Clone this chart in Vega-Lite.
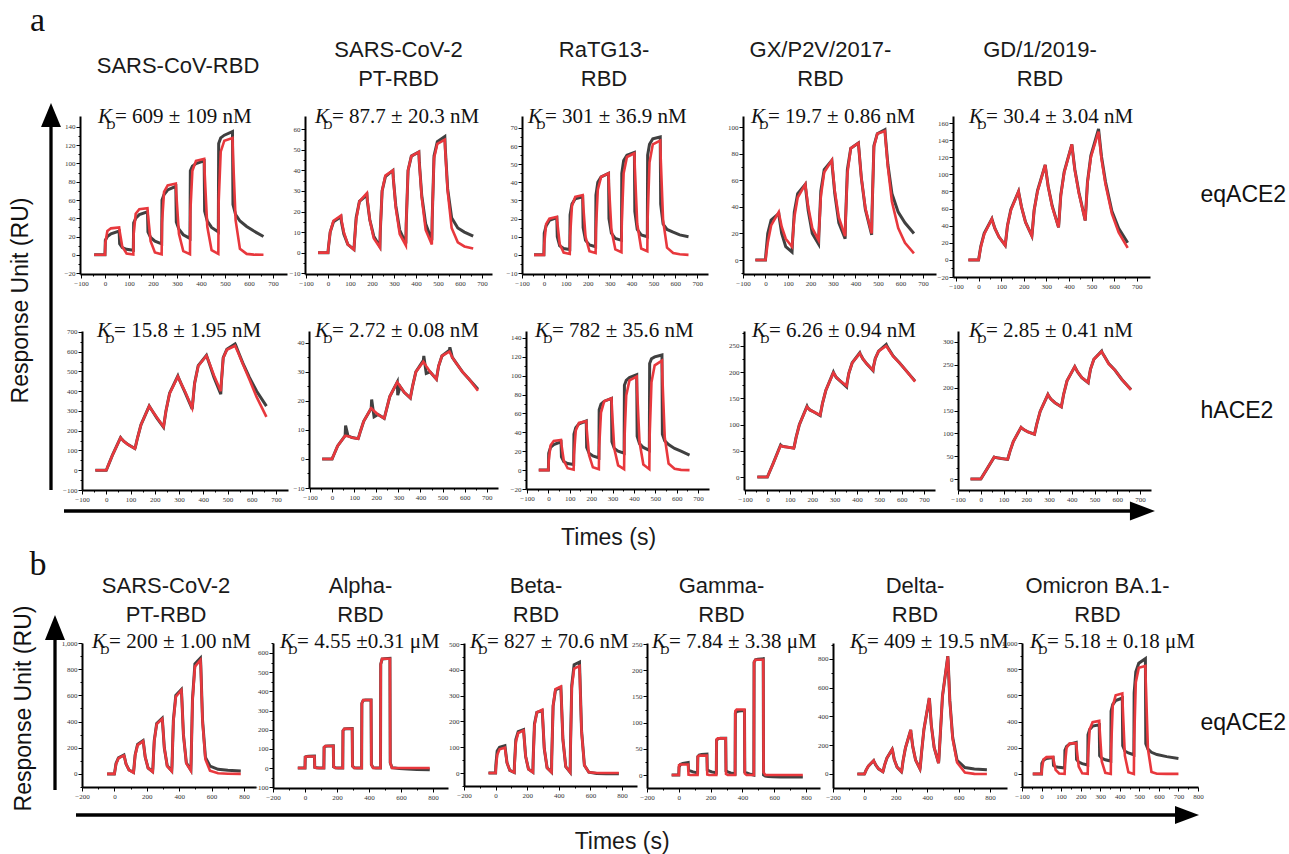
{
"$schema":"https://vega.github.io/schema/vega-lite/v6.json",
"autosize":{"type":"none"},
"padding":{"left":0,"top":0,"right":1289,"bottom":854},
"background":"white",
"config":{
 "view":{"stroke":null},
 "axis":{"domainColor":"#000","domainWidth":2,"tickColor":"#000","tickWidth":1,"tickSize":3,"labelFont":"Liberation Serif","labelFontSize":7,"labelColor":"#333","labelPadding":1,"labelOverlap":false,"labelFlush":false,"grid":false},
 "title":{"font":"Liberation Sans","fontSize":22,"fontWeight":"normal","color":"#1a1a1a","anchor":"middle","frame":"group","lineHeight":29,"baseline":"bottom"}
},
"datasets":{
"a1":[{"t":-45,"m":0,"f":0},{"t":0,"m":0,"f":0},{"t":1.5,"m":16,"f":13},{"t":10,"m":20,"f":26},{"t":25,"m":23,"f":29},{"t":59,"m":26,"f":30},{"t":61,"m":12,"f":26},{"t":72,"m":8,"f":9},{"t":90,"m":6,"f":1.5},{"t":118,"m":5,"f":0.3},{"t":119.5,"m":35,"f":23},{"t":128,"m":40,"f":45},{"t":143,"m":44,"f":50},{"t":177,"m":47,"f":51},{"t":179,"m":25,"f":44},{"t":190,"m":19,"f":15},{"t":208,"m":15,"f":2.5},{"t":236,"m":12,"f":0.5},{"t":237.5,"m":60,"f":35},{"t":246,"m":66,"f":69},{"t":261,"m":71,"f":76},{"t":295,"m":75,"f":78},{"t":297,"m":36,"f":67},{"t":308,"m":28,"f":23},{"t":326,"m":22,"f":4},{"t":354,"m":18,"f":0.7},{"t":355.5,"m":92,"f":47},{"t":364,"m":97,"f":92},{"t":379,"m":100,"f":103},{"t":413,"m":103,"f":105},{"t":415,"m":48,"f":90},{"t":426,"m":37,"f":31},{"t":444,"m":30,"f":5},{"t":472,"m":25,"f":1},{"t":473.5,"m":122,"f":58},{"t":482,"m":128,"f":113},{"t":497,"m":131,"f":125},{"t":531,"m":135,"f":128},{"t":533,"m":55,"f":110},{"t":544,"m":44,"f":38},{"t":562,"m":37,"f":6.5},{"t":590,"m":31,"f":1},{"t":620,"m":26,"f":0.2},{"t":660,"m":20,"f":0}],
"a2":[{"t":-45,"m":0,"f":0},{"t":0,"m":0,"f":0},{"t":1.5,"m":2,"f":2},{"t":10,"m":10,"f":10},{"t":25,"m":15,"f":15.5},{"t":59,"m":17.5,"f":18},{"t":61,"m":15,"f":16},{"t":72,"m":9,"f":10},{"t":90,"m":4,"f":4},{"t":118,"m":1.5,"f":1.5},{"t":119.5,"m":4,"f":4},{"t":128,"m":17,"f":16},{"t":143,"m":25,"f":25},{"t":177,"m":28,"f":29},{"t":179,"m":25,"f":26},{"t":190,"m":16,"f":16},{"t":208,"m":8,"f":7},{"t":236,"m":3,"f":2.5},{"t":237.5,"m":10,"f":10},{"t":246,"m":30,"f":30},{"t":261,"m":37,"f":37.5},{"t":295,"m":40,"f":40},{"t":297,"m":36,"f":36},{"t":308,"m":23,"f":22},{"t":326,"m":11,"f":9},{"t":354,"m":4.5,"f":3.5},{"t":355.5,"m":14,"f":14},{"t":364,"m":40,"f":40},{"t":379,"m":47,"f":47},{"t":413,"m":49,"f":49},{"t":415,"m":44,"f":44},{"t":426,"m":28,"f":27},{"t":444,"m":14,"f":11},{"t":472,"m":6,"f":4},{"t":473.5,"m":16,"f":16},{"t":482,"m":47,"f":46},{"t":497,"m":54,"f":53},{"t":531,"m":56.5,"f":55},{"t":533,"m":51,"f":50},{"t":544,"m":31,"f":30},{"t":562,"m":17,"f":12},{"t":590,"m":12,"f":5},{"t":620,"m":10,"f":3},{"t":660,"m":8,"f":2}],
"a3":[{"t":-45,"m":0,"f":0},{"t":0,"m":0,"f":0},{"t":1.5,"m":12,"f":6},{"t":10,"m":16,"f":17},{"t":25,"m":19,"f":20},{"t":59,"m":20.5,"f":21},{"t":61,"m":10,"f":18},{"t":72,"m":5,"f":6},{"t":90,"m":3.5,"f":1.3},{"t":118,"m":3,"f":0.5},{"t":119.5,"m":22,"f":10},{"t":128,"m":28,"f":27},{"t":143,"m":31,"f":32},{"t":177,"m":32,"f":33},{"t":179,"m":15,"f":28},{"t":190,"m":8,"f":10},{"t":208,"m":5.5,"f":2},{"t":236,"m":4.5,"f":1},{"t":237.5,"m":33,"f":14},{"t":246,"m":40,"f":36},{"t":261,"m":43,"f":43},{"t":295,"m":45,"f":45},{"t":297,"m":20,"f":38},{"t":308,"m":12,"f":14},{"t":326,"m":9,"f":3},{"t":354,"m":8,"f":1.5},{"t":355.5,"m":45,"f":18},{"t":364,"m":52,"f":45},{"t":379,"m":55,"f":54},{"t":413,"m":56.5,"f":56},{"t":415,"m":24,"f":48},{"t":426,"m":14,"f":17},{"t":444,"m":11,"f":3.5},{"t":472,"m":10,"f":2},{"t":473.5,"m":55,"f":20},{"t":482,"m":61,"f":51},{"t":497,"m":64,"f":61},{"t":531,"m":65,"f":63},{"t":533,"m":28,"f":54},{"t":544,"m":17,"f":19},{"t":562,"m":14,"f":4},{"t":590,"m":12.5,"f":1},{"t":620,"m":11,"f":0.3},{"t":660,"m":10,"f":0}],
"a4":[{"t":-45,"m":0,"f":0},{"t":0,"m":0,"f":0},{"t":1.5,"m":4,"f":2},{"t":10,"m":20,"f":13},{"t":25,"m":30,"f":26},{"t":59,"m":35,"f":36},{"t":61,"m":32,"f":34},{"t":72,"m":20,"f":25},{"t":90,"m":10,"f":16},{"t":118,"m":6,"f":10},{"t":119.5,"m":12,"f":13},{"t":128,"m":36,"f":32},{"t":143,"m":50,"f":47},{"t":177,"m":57,"f":57},{"t":179,"m":53,"f":54},{"t":190,"m":37,"f":40},{"t":208,"m":20,"f":24},{"t":236,"m":12,"f":15},{"t":237.5,"m":20,"f":20},{"t":246,"m":52,"f":48},{"t":261,"m":68,"f":66},{"t":295,"m":75,"f":75},{"t":297,"m":70,"f":71},{"t":308,"m":50,"f":52},{"t":326,"m":28,"f":32},{"t":354,"m":16,"f":18},{"t":355.5,"m":28,"f":27},{"t":364,"m":68,"f":65},{"t":379,"m":84,"f":84},{"t":413,"m":88,"f":88},{"t":415,"m":84,"f":84},{"t":426,"m":62,"f":62},{"t":444,"m":38,"f":39},{"t":472,"m":19,"f":20},{"t":473.5,"m":35,"f":35},{"t":482,"m":86,"f":85},{"t":497,"m":95,"f":95},{"t":531,"m":98,"f":97},{"t":533,"m":93,"f":92},{"t":544,"m":72,"f":70},{"t":562,"m":50,"f":44},{"t":590,"m":36,"f":24},{"t":620,"m":28,"f":13},{"t":660,"m":20,"f":5}],
"a5":[{"t":-45,"m":0,"f":0},{"t":0,"m":0,"f":0},{"t":1.5,"m":2,"f":2},{"t":10,"m":16,"f":15},{"t":25,"m":31,"f":30},{"t":59,"m":48,"f":48},{"t":61,"m":46,"f":46},{"t":72,"m":37,"f":37},{"t":90,"m":27,"f":27},{"t":118,"m":17,"f":17},{"t":119.5,"m":20,"f":20},{"t":128,"m":40,"f":40},{"t":143,"m":59,"f":58},{"t":177,"m":80,"f":80},{"t":179,"m":77,"f":77},{"t":190,"m":62,"f":62},{"t":208,"m":44,"f":44},{"t":236,"m":28,"f":28},{"t":237.5,"m":32,"f":32},{"t":246,"m":58,"f":58},{"t":261,"m":81,"f":80},{"t":295,"m":111,"f":111},{"t":297,"m":107,"f":107},{"t":308,"m":86,"f":86},{"t":326,"m":63,"f":62},{"t":354,"m":38,"f":38},{"t":355.5,"m":43,"f":43},{"t":364,"m":76,"f":75},{"t":379,"m":103,"f":102},{"t":413,"m":135,"f":135},{"t":415,"m":130,"f":130},{"t":426,"m":106,"f":105},{"t":444,"m":79,"f":78},{"t":472,"m":46,"f":46},{"t":473.5,"m":52,"f":52},{"t":482,"m":91,"f":90},{"t":497,"m":122,"f":120},{"t":531,"m":153,"f":150},{"t":533,"m":148,"f":145},{"t":544,"m":121,"f":118},{"t":562,"m":91,"f":88},{"t":590,"m":57,"f":54},{"t":620,"m":37,"f":32},{"t":660,"m":20,"f":14}],
"a6":[{"t":-45,"m":0,"f":0},{"t":0,"m":0,"f":0},{"t":1.5,"m":4,"f":4},{"t":10,"m":30,"f":30},{"t":25,"m":75,"f":75},{"t":59,"m":165,"f":165},{"t":61,"m":162,"f":162},{"t":72,"m":147,"f":147},{"t":90,"m":130,"f":130},{"t":118,"m":110,"f":110},{"t":119.5,"m":115,"f":115},{"t":128,"m":160,"f":160},{"t":143,"m":230,"f":230},{"t":177,"m":325,"f":325},{"t":179,"m":321,"f":321},{"t":190,"m":300,"f":300},{"t":208,"m":265,"f":268},{"t":236,"m":218,"f":220},{"t":237.5,"m":230,"f":230},{"t":246,"m":300,"f":300},{"t":261,"m":390,"f":388},{"t":295,"m":477,"f":475},{"t":297,"m":470,"f":470},{"t":308,"m":440,"f":440},{"t":326,"m":390,"f":395},{"t":354,"m":310,"f":315},{"t":355.5,"m":330,"f":330},{"t":364,"m":440,"f":440},{"t":379,"m":530,"f":528},{"t":413,"m":582,"f":580},{"t":415,"m":575,"f":574},{"t":426,"m":535,"f":540},{"t":444,"m":470,"f":480},{"t":472,"m":385,"f":400},{"t":473.5,"m":430,"f":430},{"t":482,"m":570,"f":568},{"t":497,"m":612,"f":610},{"t":531,"m":640,"f":630},{"t":533,"m":635,"f":624},{"t":544,"m":600,"f":595},{"t":562,"m":545,"f":540},{"t":590,"m":470,"f":460},{"t":620,"m":400,"f":370},{"t":660,"m":325,"f":270}],
"a7":[{"t":-45,"m":0,"f":0},{"t":0,"m":0,"f":0},{"t":1.5,"m":0.3,"f":0.3},{"t":10,"m":1.8,"f":1.8},{"t":25,"m":4.5,"f":4.5},{"t":59,"m":8,"f":8},{"t":61,"m":11.5,"f":8},{"t":72,"m":8,"f":7.8},{"t":90,"m":7.4,"f":7.4},{"t":118,"m":7,"f":7},{"t":119.5,"m":7.3,"f":7.3},{"t":128,"m":9.5,"f":9.5},{"t":143,"m":13,"f":13},{"t":177,"m":17.5,"f":17.5},{"t":179,"m":20.5,"f":17.4},{"t":190,"m":14.5,"f":16.5},{"t":208,"m":15.3,"f":15.3},{"t":236,"m":14,"f":14},{"t":237.5,"m":14.4,"f":14.4},{"t":246,"m":17,"f":17},{"t":261,"m":21.5,"f":21.5},{"t":295,"m":26.5,"f":26.5},{"t":297,"m":22,"f":26.3},{"t":308,"m":25,"f":25},{"t":326,"m":23,"f":23},{"t":354,"m":21,"f":21},{"t":355.5,"m":21.6,"f":21.6},{"t":364,"m":25,"f":25},{"t":379,"m":30,"f":30},{"t":413,"m":34,"f":33.5},{"t":415,"m":35.5,"f":33.3},{"t":426,"m":29.5,"f":32},{"t":444,"m":30,"f":30},{"t":472,"m":27.5,"f":27.5},{"t":473.5,"m":28.2,"f":28.2},{"t":482,"m":32,"f":32},{"t":497,"m":35.5,"f":35.5},{"t":531,"m":37.5,"f":37},{"t":533,"m":38.5,"f":36.7},{"t":544,"m":35,"f":35},{"t":562,"m":33,"f":33},{"t":590,"m":30,"f":30},{"t":620,"m":27.5,"f":27.5},{"t":660,"m":24,"f":23.5}],
"a8":[{"t":-45,"m":0,"f":0},{"t":0,"m":0,"f":0},{"t":1.5,"m":18,"f":10},{"t":10,"m":24,"f":26},{"t":25,"m":27,"f":31},{"t":59,"m":30,"f":32},{"t":61,"m":14,"f":27},{"t":72,"m":9,"f":10},{"t":90,"m":7,"f":2},{"t":118,"m":6,"f":0.5},{"t":119.5,"m":38,"f":16},{"t":128,"m":45,"f":42},{"t":143,"m":49,"f":50},{"t":177,"m":52,"f":52},{"t":179,"m":24,"f":44},{"t":190,"m":18,"f":16},{"t":208,"m":15,"f":3},{"t":236,"m":13,"f":1},{"t":237.5,"m":64,"f":24},{"t":246,"m":70,"f":61},{"t":261,"m":73,"f":73},{"t":295,"m":76,"f":76},{"t":297,"m":30,"f":65},{"t":308,"m":23,"f":23},{"t":326,"m":20,"f":5},{"t":354,"m":18,"f":1},{"t":355.5,"m":90,"f":31},{"t":364,"m":95,"f":79},{"t":379,"m":98,"f":95},{"t":413,"m":101,"f":99},{"t":415,"m":36,"f":84},{"t":426,"m":28,"f":30},{"t":444,"m":24,"f":6},{"t":472,"m":21,"f":1},{"t":473.5,"m":113,"f":36},{"t":482,"m":118,"f":93},{"t":497,"m":120,"f":111},{"t":531,"m":122,"f":116},{"t":533,"m":38,"f":99},{"t":544,"m":31,"f":35},{"t":562,"m":27,"f":7},{"t":590,"m":23,"f":1.5},{"t":620,"m":20,"f":0.3},{"t":660,"m":16,"f":0}],
"a9":[{"t":-45,"m":0,"f":0},{"t":0,"m":0,"f":0},{"t":1.5,"m":1.5,"f":1.5},{"t":10,"m":10,"f":10},{"t":25,"m":25,"f":25},{"t":59,"m":61,"f":60},{"t":61,"m":60,"f":59.5},{"t":72,"m":58,"f":58},{"t":90,"m":57,"f":57},{"t":118,"m":55,"f":55},{"t":119.5,"m":57,"f":57},{"t":128,"m":75,"f":75},{"t":143,"m":100,"f":100},{"t":177,"m":135,"f":134},{"t":179,"m":133,"f":133},{"t":190,"m":128,"f":128},{"t":208,"m":124,"f":124},{"t":236,"m":117,"f":118},{"t":237.5,"m":121,"f":121},{"t":246,"m":140,"f":140},{"t":261,"m":165,"f":165},{"t":295,"m":200,"f":199},{"t":297,"m":198,"f":198},{"t":308,"m":190,"f":190},{"t":326,"m":183,"f":183},{"t":354,"m":172,"f":174},{"t":355.5,"m":178,"f":178},{"t":364,"m":198,"f":198},{"t":379,"m":218,"f":218},{"t":413,"m":237,"f":236},{"t":415,"m":235,"f":234},{"t":426,"m":226,"f":226},{"t":444,"m":216,"f":216},{"t":472,"m":203,"f":204},{"t":473.5,"m":209,"f":209},{"t":482,"m":226,"f":226},{"t":497,"m":240,"f":240},{"t":531,"m":253,"f":250},{"t":533,"m":251,"f":249},{"t":544,"m":243,"f":242},{"t":562,"m":231,"f":230},{"t":590,"m":218,"f":218},{"t":620,"m":203,"f":203},{"t":660,"m":183,"f":182}],
"a10":[{"t":-45,"m":0,"f":0},{"t":0,"m":0,"f":0},{"t":1.5,"m":1,"f":1},{"t":10,"m":8,"f":8},{"t":25,"m":20,"f":20},{"t":59,"m":48,"f":48},{"t":61,"m":47.7,"f":47.7},{"t":72,"m":46.5,"f":46.5},{"t":90,"m":45,"f":45},{"t":118,"m":43,"f":43},{"t":119.5,"m":45,"f":45},{"t":128,"m":60,"f":60},{"t":143,"m":82,"f":82},{"t":177,"m":113,"f":113},{"t":179,"m":112,"f":112},{"t":190,"m":108,"f":108},{"t":208,"m":103,"f":103},{"t":236,"m":98,"f":98},{"t":237.5,"m":101,"f":101},{"t":246,"m":120,"f":120},{"t":261,"m":148,"f":148},{"t":295,"m":185,"f":185},{"t":297,"m":183,"f":183},{"t":308,"m":175,"f":175},{"t":326,"m":167,"f":167},{"t":354,"m":158,"f":158},{"t":355.5,"m":162,"f":162},{"t":364,"m":185,"f":185},{"t":379,"m":215,"f":215},{"t":413,"m":246,"f":246},{"t":415,"m":244,"f":244},{"t":426,"m":234,"f":234},{"t":444,"m":222,"f":222},{"t":472,"m":211,"f":211},{"t":473.5,"m":216,"f":216},{"t":482,"m":240,"f":240},{"t":497,"m":262,"f":262},{"t":531,"m":280,"f":279},{"t":533,"m":277,"f":277},{"t":544,"m":268,"f":268},{"t":562,"m":253,"f":252},{"t":590,"m":238,"f":238},{"t":620,"m":218,"f":218},{"t":660,"m":196,"f":195}],
"b1":[{"t":-45,"m":0,"f":0},{"t":0,"m":0,"f":0},{"t":1.5,"m":10,"f":10},{"t":10,"m":80,"f":75},{"t":25,"m":122,"f":120},{"t":59,"m":145,"f":140},{"t":61,"m":135,"f":135},{"t":72,"m":75,"f":75},{"t":90,"m":30,"f":30},{"t":118,"m":12,"f":10},{"t":119.5,"m":30,"f":25},{"t":128,"m":145,"f":140},{"t":143,"m":225,"f":220},{"t":177,"m":255,"f":250},{"t":179,"m":240,"f":240},{"t":190,"m":130,"f":130},{"t":208,"m":45,"f":45},{"t":236,"m":18,"f":15},{"t":237.5,"m":45,"f":40},{"t":246,"m":255,"f":250},{"t":261,"m":385,"f":380},{"t":295,"m":425,"f":420},{"t":297,"m":400,"f":400},{"t":308,"m":200,"f":200},{"t":326,"m":62,"f":60},{"t":354,"m":22,"f":20},{"t":355.5,"m":65,"f":60},{"t":364,"m":410,"f":400},{"t":379,"m":600,"f":590},{"t":413,"m":645,"f":640},{"t":415,"m":610,"f":610},{"t":426,"m":300,"f":300},{"t":444,"m":85,"f":80},{"t":472,"m":28,"f":25},{"t":473.5,"m":95,"f":90},{"t":482,"m":570,"f":560},{"t":497,"m":840,"f":820},{"t":531,"m":885,"f":870},{"t":533,"m":840,"f":830},{"t":544,"m":410,"f":400},{"t":562,"m":125,"f":110},{"t":590,"m":60,"f":25},{"t":640,"m":35,"f":5},{"t":700,"m":28,"f":1},{"t":780,"m":22,"f":0}],
"b2":[{"t":-45,"m":0,"f":0},{"t":0,"m":0,"f":0},{"t":1.5,"m":57,"f":57},{"t":10,"m":60,"f":60},{"t":25,"m":61,"f":60},{"t":59,"m":62,"f":60},{"t":61,"m":4,"f":3},{"t":72,"m":1,"f":0},{"t":90,"m":0,"f":0},{"t":118,"m":0,"f":0},{"t":119.5,"m":108,"f":109},{"t":128,"m":114,"f":115},{"t":143,"m":115,"f":115},{"t":177,"m":116,"f":115},{"t":179,"m":6,"f":6},{"t":190,"m":1,"f":0},{"t":208,"m":0,"f":0},{"t":236,"m":0,"f":0},{"t":237.5,"m":195,"f":195},{"t":246,"m":204,"f":205},{"t":261,"m":205,"f":205},{"t":295,"m":206,"f":205},{"t":297,"m":10,"f":10},{"t":308,"m":1,"f":0},{"t":326,"m":0,"f":0},{"t":354,"m":0,"f":0},{"t":355.5,"m":338,"f":337},{"t":364,"m":353,"f":355},{"t":379,"m":355,"f":355},{"t":413,"m":355,"f":355},{"t":415,"m":18,"f":18},{"t":426,"m":2,"f":0},{"t":444,"m":0,"f":0},{"t":472,"m":0,"f":0},{"t":473.5,"m":542,"f":541},{"t":482,"m":568,"f":570},{"t":497,"m":570,"f":570},{"t":531,"m":572,"f":570},{"t":533,"m":28,"f":28},{"t":544,"m":2,"f":0},{"t":562,"m":0,"f":0},{"t":590,"m":-3,"f":0},{"t":640,"m":-5,"f":0},{"t":700,"m":-7,"f":0},{"t":780,"m":-9,"f":0}],
"b3":[{"t":-45,"m":0,"f":0},{"t":0,"m":0,"f":0},{"t":1.5,"m":30,"f":15},{"t":10,"m":85,"f":70},{"t":25,"m":100,"f":92},{"t":59,"m":106,"f":98},{"t":61,"m":95,"f":90},{"t":72,"m":40,"f":40},{"t":90,"m":10,"f":10},{"t":118,"m":2,"f":2},{"t":119.5,"m":35,"f":25},{"t":128,"m":130,"f":120},{"t":143,"m":160,"f":155},{"t":177,"m":168,"f":165},{"t":179,"m":152,"f":150},{"t":190,"m":65,"f":65},{"t":208,"m":15,"f":15},{"t":236,"m":3,"f":3},{"t":237.5,"m":50,"f":40},{"t":246,"m":190,"f":185},{"t":261,"m":235,"f":235},{"t":295,"m":242,"f":245},{"t":297,"m":222,"f":225},{"t":308,"m":95,"f":95},{"t":326,"m":20,"f":20},{"t":354,"m":3,"f":3},{"t":355.5,"m":65,"f":60},{"t":364,"m":260,"f":260},{"t":379,"m":322,"f":325},{"t":413,"m":332,"f":335},{"t":415,"m":305,"f":305},{"t":426,"m":130,"f":130},{"t":444,"m":25,"f":25},{"t":472,"m":3,"f":3},{"t":473.5,"m":85,"f":80},{"t":482,"m":340,"f":330},{"t":497,"m":420,"f":405},{"t":531,"m":430,"f":415},{"t":533,"m":390,"f":380},{"t":544,"m":165,"f":160},{"t":562,"m":30,"f":30},{"t":590,"m":3,"f":3},{"t":640,"m":-2,"f":0},{"t":700,"m":-3,"f":0},{"t":780,"m":-3,"f":0}],
"b4":[{"t":-45,"m":0,"f":0},{"t":0,"m":0,"f":0},{"t":1.5,"m":15,"f":19},{"t":10,"m":20,"f":20},{"t":25,"m":22,"f":20},{"t":59,"m":24,"f":20},{"t":61,"m":9,"f":0.5},{"t":72,"m":8,"f":0},{"t":90,"m":6,"f":0},{"t":118,"m":4,"f":0},{"t":119.5,"m":35,"f":35},{"t":128,"m":38,"f":37},{"t":143,"m":39,"f":37},{"t":177,"m":40,"f":37},{"t":179,"m":10,"f":1},{"t":190,"m":8,"f":0},{"t":208,"m":6,"f":0},{"t":236,"m":4,"f":0},{"t":237.5,"m":66,"f":68},{"t":246,"m":69,"f":70},{"t":261,"m":70,"f":70},{"t":295,"m":70,"f":70},{"t":297,"m":8,"f":2},{"t":308,"m":6,"f":0},{"t":326,"m":4,"f":0},{"t":354,"m":2,"f":0},{"t":355.5,"m":118,"f":122},{"t":364,"m":121,"f":125},{"t":379,"m":122,"f":125},{"t":413,"m":123,"f":125},{"t":415,"m":6,"f":3},{"t":426,"m":4,"f":0},{"t":444,"m":2,"f":0},{"t":472,"m":0,"f":0},{"t":473.5,"m":215,"f":216},{"t":482,"m":220,"f":220},{"t":497,"m":221,"f":220},{"t":531,"m":222,"f":220},{"t":533,"m":0,"f":5},{"t":544,"m":-2,"f":0},{"t":562,"m":-3,"f":0},{"t":590,"m":-3.5,"f":0},{"t":640,"m":-4,"f":0},{"t":700,"m":-4,"f":0},{"t":780,"m":-4,"f":0}],
"b5":[{"t":-45,"m":0,"f":0},{"t":0,"m":0,"f":0},{"t":1.5,"m":3,"f":3},{"t":10,"m":25,"f":25},{"t":25,"m":55,"f":55},{"t":59,"m":93,"f":93},{"t":61,"m":88,"f":88},{"t":72,"m":63,"f":63},{"t":90,"m":36,"f":36},{"t":118,"m":16,"f":16},{"t":119.5,"m":20,"f":20},{"t":128,"m":60,"f":60},{"t":143,"m":110,"f":110},{"t":177,"m":172,"f":172},{"t":179,"m":164,"f":164},{"t":190,"m":101,"f":101},{"t":208,"m":48,"f":48},{"t":236,"m":16,"f":16},{"t":237.5,"m":22,"f":22},{"t":246,"m":90,"f":90},{"t":261,"m":180,"f":180},{"t":295,"m":307,"f":307},{"t":297,"m":285,"f":285},{"t":308,"m":190,"f":190},{"t":326,"m":97,"f":97},{"t":354,"m":35,"f":35},{"t":355.5,"m":45,"f":45},{"t":364,"m":150,"f":150},{"t":379,"m":310,"f":310},{"t":413,"m":528,"f":528},{"t":415,"m":510,"f":510},{"t":426,"m":340,"f":340},{"t":444,"m":185,"f":185},{"t":472,"m":75,"f":75},{"t":473.5,"m":90,"f":90},{"t":482,"m":250,"f":250},{"t":497,"m":540,"f":540},{"t":531,"m":820,"f":818},{"t":533,"m":790,"f":788},{"t":544,"m":510,"f":505},{"t":562,"m":255,"f":245},{"t":590,"m":95,"f":80},{"t":640,"m":45,"f":10},{"t":700,"m":35,"f":1},{"t":780,"m":30,"f":0}],
"b6":[{"t":-45,"m":0,"f":0},{"t":0,"m":0,"f":0},{"t":1.5,"m":80,"f":40},{"t":10,"m":105,"f":110},{"t":25,"m":118,"f":128},{"t":59,"m":125,"f":130},{"t":61,"m":65,"f":110},{"t":72,"m":55,"f":30},{"t":90,"m":50,"f":3},{"t":118,"m":45,"f":0},{"t":119.5,"m":180,"f":70},{"t":128,"m":210,"f":200},{"t":143,"m":228,"f":232},{"t":177,"m":240,"f":235},{"t":179,"m":110,"f":200},{"t":190,"m":90,"f":55},{"t":208,"m":78,"f":5},{"t":236,"m":68,"f":0},{"t":237.5,"m":300,"f":120},{"t":246,"m":340,"f":340},{"t":261,"m":365,"f":395},{"t":295,"m":375,"f":405},{"t":297,"m":140,"f":345},{"t":308,"m":120,"f":95},{"t":326,"m":108,"f":8},{"t":354,"m":98,"f":0},{"t":355.5,"m":480,"f":180},{"t":364,"m":530,"f":520},{"t":379,"m":560,"f":600},{"t":413,"m":580,"f":615},{"t":415,"m":215,"f":520},{"t":426,"m":175,"f":140},{"t":444,"m":160,"f":12},{"t":472,"m":146,"f":0},{"t":473.5,"m":620,"f":245},{"t":482,"m":780,"f":700},{"t":497,"m":845,"f":810},{"t":531,"m":880,"f":825},{"t":533,"m":230,"f":700},{"t":544,"m":190,"f":190},{"t":562,"m":165,"f":15},{"t":590,"m":148,"f":1},{"t":640,"m":132,"f":0},{"t":700,"m":118,"f":0}]
},
"columns":22,
"align":{"row":"each","column":"each"},
"bounds":"flush",
"spacing":0,
"concat":[
 {"width":30,"height":116,"data":{"values":[]},"mark":"point"},
 {"width":10,"height":42,"data":{"values":[{"s":"a"}]},"mark":{"type":"text","font":"Liberation Serif","fontSize":34,"align":"center","baseline":"middle","dx":2.5,"color":"#111"},"encoding":{"text":{"field":"s"}}},
 {"width":5,"height":1,"data":{"values":[]},"mark":"point"},
 {"width":19,"height":1,"data":{"values":[]},"mark":"point"},
 {"width":12,"height":1,"data":{"values":[]},"mark":"point"},
 {"width":4,"height":1,"data":{"values":[]},"mark":"point"},
 {"width":2,"height":1,"data":{"values":[]},"mark":"point"},
 {"width":191,"height":1,"data":{"values":[]},"mark":"point"},
 {"width":32,"height":1,"data":{"values":[]},"mark":"point"},
 {"width":4,"height":1,"data":{"values":[]},"mark":"point"},
 {"width":155,"height":1,"data":{"values":[]},"mark":"point"},
 {"width":58,"height":1,"data":{"values":[]},"mark":"point"},
 {"width":4,"height":1,"data":{"values":[]},"mark":"point"},
 {"width":121,"height":1,"data":{"values":[]},"mark":"point"},
 {"width":96,"height":1,"data":{"values":[]},"mark":"point"},
 {"width":1,"height":1,"data":{"values":[]},"mark":"point"},
 {"width":89,"height":1,"data":{"values":[]},"mark":"point"},
 {"width":120,"height":1,"data":{"values":[]},"mark":"point"},
 {"width":5,"height":1,"data":{"values":[]},"mark":"point"},
 {"width":64,"height":1,"data":{"values":[]},"mark":"point"},
 {"width":178,"height":1,"data":{"values":[]},"mark":"point"},
 {"width":1,"height":1,"data":{"values":[]},"mark":"point"},

 {"width":1,"height":1,"data":{"values":[]},"mark":"point"},
 {"width":1,"height":1,"data":{"values":[]},"mark":"point"},
 {"width":1,"height":158,"data":{"values":[{}]},
  "layer":[
   {"mark":{"type":"rule","color":"#000","strokeWidth":3.3},"encoding":{"x":{"datum":0.5,"type":"quantitative","scale":{"domain":[0,1],"range":[0,22]},"axis":null},"y":{"datum":-1.367,"type":"quantitative","scale":{"domain":[0,1]},"axis":null},"y2":{"datum":0.962}}},
   {"mark":{"type":"point","shape":"M-0.83,1L0,-1L0.83,1Z","filled":true,"color":"#000","opacity":1,"size":576},"encoding":{"x":{"datum":0.5,"type":"quantitative"},"y":{"datum":1.0063,"type":"quantitative"}}},
   {"data":{"values":[{"s":"Response Unit (RU)"}]},"mark":{"type":"text","font":"Liberation Sans","fontSize":23,"angle":270,"align":"center","baseline":"alphabetic","color":"#111"},"encoding":{"x":{"datum":-0.545,"type":"quantitative"},"y":{"datum":-0.1677,"type":"quantitative"},"text":{"field":"s"}}}
  ]},
 {"width":1,"height":1,"data":{"values":[]},"mark":"point"},
 {"width":1,"height":1,"data":{"values":[]},"mark":"point"},
 {"width":1,"height":1,"data":{"values":[]},"mark":"point"},
 {"width":1,"height":158,"data":{"name":"a1"},"title":{"text":"SARS-CoV-RBD","offset":28,"dx":97.5},
  "layer":[
   {"mark":{"type":"line","color":"#404040","strokeWidth":3},"encoding":{"x":{"field":"t","type":"quantitative","title":null,"scale":{"domain":[-104,758],"range":[0,207],"nice":false,"zero":false},"axis":{"title":null,"tickCount":100,"values":[-100,-50,0,50,100,150,200,250,300,350,400,450,500,550,600,650,700],"labelExpr":"datum.value % 100 === 0 ? datum.label : ''","tickSize":{"condition":{"test":"datum.value % 100 === 0","value":4},"value":2}}},"y":{"field":"m","type":"quantitative","title":null,"scale":{"domain":[-21,152],"nice":false,"zero":false},"axis":{"title":null,"tickCount":100,"values":[-20,-10,0,10,20,30,40,50,60,70,80,90,100,110,120,130,140],"labelExpr":"datum.value % 20 === 0 ? datum.label : ''","tickSize":{"condition":{"test":"datum.value % 20 === 0","value":4},"value":2}}}}},
   {"mark":{"type":"line","color":"#e8383d","strokeWidth":2.6},"encoding":{"x":{"field":"t","type":"quantitative","title":null},"y":{"field":"f","type":"quantitative","title":null}}},
   {"data":{"values":[{"s":"K"}]},"mark":{"type":"text","font":"Liberation Serif","fontStyle":"italic","fontSize":21,"align":"left","baseline":"alphabetic","color":"#111"},"encoding":{"x":{"datum":-29},"y":{"datum":144.3},"text":{"field":"s"}}},
   {"data":{"values":[{"s":"D"}]},"mark":{"type":"text","font":"Liberation Serif","fontSize":13,"align":"left","baseline":"alphabetic","dx":8,"dy":6,"color":"#111"},"encoding":{"x":{"datum":-29},"y":{"datum":144.3},"text":{"field":"s"}}},
   {"data":{"values":[{"s":"= 609 ± 109 nM"}]},"mark":{"type":"text","font":"Liberation Serif","fontSize":21,"align":"left","baseline":"alphabetic","dx":17,"color":"#111"},"encoding":{"x":{"datum":-29},"y":{"datum":144.3},"text":{"field":"s"}}}
  ]},
 {"width":1,"height":1,"data":{"values":[]},"mark":"point"},
 {"width":1,"height":1,"data":{"values":[]},"mark":"point"},
 {"width":1,"height":158,"data":{"name":"a2"},"title":{"text":["SARS-CoV-2","PT-RBD"],"offset":15,"dx":93},
  "layer":[
   {"mark":{"type":"line","color":"#404040","strokeWidth":3},"encoding":{"x":{"field":"t","type":"quantitative","title":null,"scale":{"domain":[-104.5,745.5],"range":[0,187],"nice":false,"zero":false},"axis":{"title":null,"tickCount":100,"values":[-100,-50,0,50,100,150,200,250,300,350,400,450,500,550,600,650,700],"labelExpr":"datum.value % 100 === 0 ? datum.label : ''","tickSize":{"condition":{"test":"datum.value % 100 === 0","value":4},"value":2}}},"y":{"field":"m","type":"quantitative","title":null,"scale":{"domain":[-10.4,66.5],"nice":false,"zero":false},"axis":{"title":null,"tickCount":100,"format":"d","values":[-10,-5,0,5,10,15,20,25,30,35,40,45,50,55,60],"labelExpr":"datum.value % 10 === 0 ? datum.label : ''","tickSize":{"condition":{"test":"datum.value % 10 === 0","value":4},"value":2}}}}},
   {"mark":{"type":"line","color":"#e8383d","strokeWidth":2.6},"encoding":{"x":{"field":"t","type":"quantitative","title":null},"y":{"field":"f","type":"quantitative","title":null}}},
   {"data":{"values":[{"s":"K"}]},"mark":{"type":"text","font":"Liberation Serif","fontStyle":"italic","fontSize":21,"align":"left","baseline":"alphabetic","color":"#111"},"encoding":{"x":{"datum":-59},"y":{"datum":63.1},"text":{"field":"s"}}},
   {"data":{"values":[{"s":"D"}]},"mark":{"type":"text","font":"Liberation Serif","fontSize":13,"align":"left","baseline":"alphabetic","dx":8,"dy":6,"color":"#111"},"encoding":{"x":{"datum":-59},"y":{"datum":63.1},"text":{"field":"s"}}},
   {"data":{"values":[{"s":"= 87.7 ± 20.3 nM"}]},"mark":{"type":"text","font":"Liberation Serif","fontSize":21,"align":"left","baseline":"alphabetic","dx":17,"color":"#111"},"encoding":{"x":{"datum":-59},"y":{"datum":63.1},"text":{"field":"s"}}}
  ]},
 {"width":1,"height":1,"data":{"values":[]},"mark":"point"},
 {"width":1,"height":1,"data":{"values":[]},"mark":"point"},
 {"width":1,"height":158,"data":{"name":"a3"},"title":{"text":["RaTG13-","RBD"],"offset":15,"dx":81.5},
  "layer":[
   {"mark":{"type":"line","color":"#404040","strokeWidth":3},"encoding":{"x":{"field":"t","type":"quantitative","title":null,"scale":{"domain":[-100,749],"range":[0,186],"nice":false,"zero":false},"axis":{"title":null,"tickCount":100,"values":[-100,-50,0,50,100,150,200,250,300,350,400,450,500,550,600,650,700],"labelExpr":"datum.value % 100 === 0 ? datum.label : ''","tickSize":{"condition":{"test":"datum.value % 100 === 0","value":4},"value":2}}},"y":{"field":"m","type":"quantitative","title":null,"scale":{"domain":[-10.55,76.6],"nice":false,"zero":false},"axis":{"title":null,"tickCount":100,"format":"d","values":[-10,-5,0,5,10,15,20,25,30,35,40,45,50,55,60,65,70],"labelExpr":"datum.value % 10 === 0 ? datum.label : ''","tickSize":{"condition":{"test":"datum.value % 10 === 0","value":4},"value":2}}}}},
   {"mark":{"type":"line","color":"#e8383d","strokeWidth":2.6},"encoding":{"x":{"field":"t","type":"quantitative","title":null},"y":{"field":"f","type":"quantitative","title":null}}},
   {"data":{"values":[{"s":"K"}]},"mark":{"type":"text","font":"Liberation Serif","fontStyle":"italic","fontSize":21,"align":"left","baseline":"alphabetic","color":"#111"},"encoding":{"x":{"datum":-72.6},"y":{"datum":72.7},"text":{"field":"s"}}},
   {"data":{"values":[{"s":"D"}]},"mark":{"type":"text","font":"Liberation Serif","fontSize":13,"align":"left","baseline":"alphabetic","dx":8,"dy":6,"color":"#111"},"encoding":{"x":{"datum":-72.6},"y":{"datum":72.7},"text":{"field":"s"}}},
   {"data":{"values":[{"s":"= 301 ± 36.9 nM"}]},"mark":{"type":"text","font":"Liberation Serif","fontSize":21,"align":"left","baseline":"alphabetic","dx":17,"color":"#111"},"encoding":{"x":{"datum":-72.6},"y":{"datum":72.7},"text":{"field":"s"}}}
  ]},
 {"width":1,"height":1,"data":{"values":[]},"mark":"point"},
 {"width":1,"height":1,"data":{"values":[]},"mark":"point"},
 {"width":1,"height":158,"data":{"name":"a4"},"title":{"text":["GX/P2V/2017-","RBD"],"offset":15,"dx":77},
  "layer":[
   {"mark":{"type":"line","color":"#404040","strokeWidth":3},"encoding":{"x":{"field":"t","type":"quantitative","title":null,"scale":{"domain":[-100,758],"range":[0,193],"nice":false,"zero":false},"axis":{"title":null,"tickCount":100,"values":[-100,-50,0,50,100,150,200,250,300,350,400,450,500,550,600,650,700],"labelExpr":"datum.value % 100 === 0 ? datum.label : ''","tickSize":{"condition":{"test":"datum.value % 100 === 0","value":4},"value":2}}},"y":{"field":"m","type":"quantitative","title":null,"scale":{"domain":[-10.5,108.3],"nice":false,"zero":false},"axis":{"title":null,"tickCount":100,"values":[-10,0,10,20,30,40,50,60,70,80,90,100],"labelExpr":"datum.value % 20 === 0 ? datum.label : ''","tickSize":{"condition":{"test":"datum.value % 20 === 0","value":4},"value":2}}}}},
   {"mark":{"type":"line","color":"#e8383d","strokeWidth":2.6},"encoding":{"x":{"field":"t","type":"quantitative","title":null},"y":{"field":"f","type":"quantitative","title":null}}},
   {"data":{"values":[{"s":"K"}]},"mark":{"type":"text","font":"Liberation Serif","fontStyle":"italic","fontSize":21,"align":"left","baseline":"alphabetic","color":"#111"},"encoding":{"x":{"datum":-64.4},"y":{"datum":103},"text":{"field":"s"}}},
   {"data":{"values":[{"s":"D"}]},"mark":{"type":"text","font":"Liberation Serif","fontSize":13,"align":"left","baseline":"alphabetic","dx":8,"dy":6,"color":"#111"},"encoding":{"x":{"datum":-64.4},"y":{"datum":103},"text":{"field":"s"}}},
   {"data":{"values":[{"s":"= 19.7 ± 0.86 nM"}]},"mark":{"type":"text","font":"Liberation Serif","fontSize":21,"align":"left","baseline":"alphabetic","dx":17,"color":"#111"},"encoding":{"x":{"datum":-64.4},"y":{"datum":103},"text":{"field":"s"}}}
  ]},
 {"width":1,"height":1,"data":{"values":[]},"mark":"point"},
 {"width":1,"height":1,"data":{"values":[]},"mark":"point"},
 {"width":1,"height":161,"data":{"name":"a5"},"title":{"text":["GD/1/2019-","RBD"],"offset":15,"dx":86.5},
  "layer":[
   {"mark":{"type":"line","color":"#404040","strokeWidth":3},"encoding":{"x":{"field":"t","type":"quantitative","title":null,"scale":{"domain":[-113,758.7],"range":[0,197],"nice":false,"zero":false},"axis":{"title":null,"tickCount":100,"values":[-100,-50,0,50,100,150,200,250,300,350,400,450,500,550,600,650,700],"labelExpr":"datum.value % 100 === 0 ? datum.label : ''","tickSize":{"condition":{"test":"datum.value % 100 === 0","value":4},"value":2}}},"y":{"field":"m","type":"quantitative","title":null,"scale":{"domain":[-20,168.2],"nice":false,"zero":false},"axis":{"title":null,"tickCount":100,"values":[-20,-10,0,10,20,30,40,50,60,70,80,90,100,110,120,130,140,150,160],"labelExpr":"datum.value % 20 === 0 ? datum.label : ''","tickSize":{"condition":{"test":"datum.value % 20 === 0","value":4},"value":2}}}}},
   {"mark":{"type":"line","color":"#e8383d","strokeWidth":2.6},"encoding":{"x":{"field":"t","type":"quantitative","title":null},"y":{"field":"f","type":"quantitative","title":null}}},
   {"data":{"values":[{"s":"K"}]},"mark":{"type":"text","font":"Liberation Serif","fontStyle":"italic","fontSize":21,"align":"left","baseline":"alphabetic","color":"#111"},"encoding":{"x":{"datum":-42},"y":{"datum":160},"text":{"field":"s"}}},
   {"data":{"values":[{"s":"D"}]},"mark":{"type":"text","font":"Liberation Serif","fontSize":13,"align":"left","baseline":"alphabetic","dx":8,"dy":6,"color":"#111"},"encoding":{"x":{"datum":-42},"y":{"datum":160},"text":{"field":"s"}}},
   {"data":{"values":[{"s":"= 30.4 ± 3.04 nM"}]},"mark":{"type":"text","font":"Liberation Serif","fontSize":21,"align":"left","baseline":"alphabetic","dx":17,"color":"#111"},"encoding":{"x":{"datum":-42},"y":{"datum":160},"text":{"field":"s"}}}
  ]},
 {"width":1,"height":1,"data":{"values":[]},"mark":"point"},
 {"width":1,"height":1,"data":{"values":[]},"mark":"point"},
 {"width":1,"height":158,"data":{"values":[{"s":"eqACE2"}]},"mark":{"type":"text","font":"Liberation Sans","fontSize":23,"align":"left","baseline":"middle","color":"#111"},"encoding":{"text":{"field":"s"}}},

 {"width":1,"height":54,"data":{"values":[]},"mark":"point"},
 {"width":1,"height":1,"data":{"values":[]},"mark":"point"},{"width":1,"height":1,"data":{"values":[]},"mark":"point"},{"width":1,"height":1,"data":{"values":[]},"mark":"point"},{"width":1,"height":1,"data":{"values":[]},"mark":"point"},{"width":1,"height":1,"data":{"values":[]},"mark":"point"},{"width":1,"height":1,"data":{"values":[]},"mark":"point"},{"width":1,"height":1,"data":{"values":[]},"mark":"point"},
 {"width":1,"height":1,"data":{"values":[]},"mark":"point"},{"width":1,"height":1,"data":{"values":[]},"mark":"point"},{"width":1,"height":1,"data":{"values":[]},"mark":"point"},{"width":1,"height":1,"data":{"values":[]},"mark":"point"},{"width":1,"height":1,"data":{"values":[]},"mark":"point"},{"width":1,"height":1,"data":{"values":[]},"mark":"point"},{"width":1,"height":1,"data":{"values":[]},"mark":"point"},
 {"width":1,"height":1,"data":{"values":[]},"mark":"point"},{"width":1,"height":1,"data":{"values":[]},"mark":"point"},{"width":1,"height":1,"data":{"values":[]},"mark":"point"},{"width":1,"height":1,"data":{"values":[]},"mark":"point"},{"width":1,"height":1,"data":{"values":[]},"mark":"point"},{"width":1,"height":1,"data":{"values":[]},"mark":"point"},{"width":1,"height":1,"data":{"values":[]},"mark":"point"},

 {"width":1,"height":1,"data":{"values":[]},"mark":"point"},{"width":1,"height":1,"data":{"values":[]},"mark":"point"},{"width":1,"height":1,"data":{"values":[]},"mark":"point"},{"width":1,"height":1,"data":{"values":[]},"mark":"point"},{"width":1,"height":1,"data":{"values":[]},"mark":"point"},{"width":1,"height":1,"data":{"values":[]},"mark":"point"},{"width":1,"height":1,"data":{"values":[]},"mark":"point"},
 {"width":1,"height":159,"data":{"name":"a6"},
  "layer":[
   {"mark":{"type":"line","color":"#404040","strokeWidth":3},"encoding":{"x":{"field":"t","type":"quantitative","title":null,"scale":{"domain":[-100,749],"range":[0,206],"nice":false,"zero":false},"axis":{"title":null,"tickCount":100,"values":[-100,-50,0,50,100,150,200,250,300,350,400,450,500,550,600,650,700],"labelExpr":"datum.value % 100 === 0 ? datum.label : ''","tickSize":{"condition":{"test":"datum.value % 100 === 0","value":4},"value":2}}},"y":{"field":"m","type":"quantitative","title":null,"scale":{"domain":[-100,705],"nice":false,"zero":false},"axis":{"title":null,"tickCount":100,"values":[-100,-50,0,50,100,150,200,250,300,350,400,450,500,550,600,650,700],"labelExpr":"datum.value % 100 === 0 ? datum.label : ''","tickSize":{"condition":{"test":"datum.value % 100 === 0","value":4},"value":2}}}}},
   {"mark":{"type":"line","color":"#e8383d","strokeWidth":2.6},"encoding":{"x":{"field":"t","type":"quantitative","title":null},"y":{"field":"f","type":"quantitative","title":null}}},
   {"data":{"values":[{"s":"K"}]},"mark":{"type":"text","font":"Liberation Serif","fontStyle":"italic","fontSize":21,"align":"left","baseline":"alphabetic","color":"#111"},"encoding":{"x":{"datum":-38},"y":{"datum":674.6},"text":{"field":"s"}}},
   {"data":{"values":[{"s":"D"}]},"mark":{"type":"text","font":"Liberation Serif","fontSize":13,"align":"left","baseline":"alphabetic","dx":8,"dy":6,"color":"#111"},"encoding":{"x":{"datum":-38},"y":{"datum":674.6},"text":{"field":"s"}}},
   {"data":{"values":[{"s":"= 15.8 ± 1.95 nM"}]},"mark":{"type":"text","font":"Liberation Serif","fontSize":21,"align":"left","baseline":"alphabetic","dx":17,"color":"#111"},"encoding":{"x":{"datum":-38},"y":{"datum":674.6},"text":{"field":"s"}}}
  ]},
 {"width":1,"height":1,"data":{"values":[]},"mark":"point"},
 {"width":1,"height":1,"data":{"values":[]},"mark":"point"},
 {"width":1,"height":157,"data":{"name":"a7"},
  "layer":[
   {"mark":{"type":"line","color":"#404040","strokeWidth":3},"encoding":{"x":{"field":"t","type":"quantitative","title":null,"scale":{"domain":[-104.5,750.7],"range":[0,189],"nice":false,"zero":false},"axis":{"title":null,"tickCount":100,"values":[-100,-50,0,50,100,150,200,250,300,350,400,450,500,550,600,650,700],"labelExpr":"datum.value % 100 === 0 ? datum.label : ''","tickSize":{"condition":{"test":"datum.value % 100 === 0","value":4},"value":2}}},"y":{"field":"m","type":"quantitative","title":null,"scale":{"domain":[-10,44.1],"nice":false,"zero":false},"axis":{"title":null,"tickCount":100,"format":"d","values":[-10,-5,0,5,10,15,20,25,30,35,40],"labelExpr":"datum.value % 10 === 0 ? datum.label : ''","tickSize":{"condition":{"test":"datum.value % 10 === 0","value":4},"value":2}}}}},
   {"mark":{"type":"line","color":"#e8383d","strokeWidth":2.6},"encoding":{"x":{"field":"t","type":"quantitative","title":null},"y":{"field":"f","type":"quantitative","title":null}}},
   {"data":{"values":[{"s":"K"}]},"mark":{"type":"text","font":"Liberation Serif","fontStyle":"italic","fontSize":21,"align":"left","baseline":"alphabetic","color":"#111"},"encoding":{"x":{"datum":-77.4},"y":{"datum":42},"text":{"field":"s"}}},
   {"data":{"values":[{"s":"D"}]},"mark":{"type":"text","font":"Liberation Serif","fontSize":13,"align":"left","baseline":"alphabetic","dx":8,"dy":6,"color":"#111"},"encoding":{"x":{"datum":-77.4},"y":{"datum":42},"text":{"field":"s"}}},
   {"data":{"values":[{"s":"= 2.72 ± 0.08 nM"}]},"mark":{"type":"text","font":"Liberation Serif","fontSize":21,"align":"left","baseline":"alphabetic","dx":17,"color":"#111"},"encoding":{"x":{"datum":-77.4},"y":{"datum":42},"text":{"field":"s"}}}
  ]},
 {"width":1,"height":1,"data":{"values":[]},"mark":"point"},
 {"width":1,"height":1,"data":{"values":[]},"mark":"point"},
 {"width":1,"height":158,"data":{"name":"a8"},
  "layer":[
   {"mark":{"type":"line","color":"#404040","strokeWidth":3},"encoding":{"x":{"field":"t","type":"quantitative","title":null,"scale":{"domain":[-104.7,751],"range":[0,183],"nice":false,"zero":false},"axis":{"title":null,"tickCount":100,"values":[-100,-50,0,50,100,150,200,250,300,350,400,450,500,550,600,650,700],"labelExpr":"datum.value % 100 === 0 ? datum.label : ''","tickSize":{"condition":{"test":"datum.value % 100 === 0","value":4},"value":2}}},"y":{"field":"m","type":"quantitative","title":null,"scale":{"domain":[-20,147.4],"nice":false,"zero":false},"axis":{"title":null,"tickCount":100,"values":[-20,-10,0,10,20,30,40,50,60,70,80,90,100,110,120,130,140],"labelExpr":"datum.value % 20 === 0 ? datum.label : ''","tickSize":{"condition":{"test":"datum.value % 20 === 0","value":4},"value":2}}}}},
   {"mark":{"type":"line","color":"#e8383d","strokeWidth":2.6},"encoding":{"x":{"field":"t","type":"quantitative","title":null},"y":{"field":"f","type":"quantitative","title":null}}},
   {"data":{"values":[{"s":"K"}]},"mark":{"type":"text","font":"Liberation Serif","fontStyle":"italic","fontSize":21,"align":"left","baseline":"alphabetic","color":"#111"},"encoding":{"x":{"datum":-62.6},"y":{"datum":141},"text":{"field":"s"}}},
   {"data":{"values":[{"s":"D"}]},"mark":{"type":"text","font":"Liberation Serif","fontSize":13,"align":"left","baseline":"alphabetic","dx":8,"dy":6,"color":"#111"},"encoding":{"x":{"datum":-62.6},"y":{"datum":141},"text":{"field":"s"}}},
   {"data":{"values":[{"s":"= 782 ± 35.6 nM"}]},"mark":{"type":"text","font":"Liberation Serif","fontSize":21,"align":"left","baseline":"alphabetic","dx":17,"color":"#111"},"encoding":{"x":{"datum":-62.6},"y":{"datum":141},"text":{"field":"s"}}}
  ]},
 {"width":1,"height":1,"data":{"values":[]},"mark":"point"},
 {"width":1,"height":1,"data":{"values":[]},"mark":"point"},
 {"width":1,"height":159,"data":{"name":"a9"},
  "layer":[
   {"mark":{"type":"line","color":"#404040","strokeWidth":3},"encoding":{"x":{"field":"t","type":"quantitative","title":null,"scale":{"domain":[-104.5,749],"range":[0,191],"nice":false,"zero":false},"axis":{"title":null,"tickCount":100,"values":[-100,-50,0,50,100,150,200,250,300,350,400,450,500,550,600,650,700],"labelExpr":"datum.value % 100 === 0 ? datum.label : ''","tickSize":{"condition":{"test":"datum.value % 100 === 0","value":4},"value":2}}},"y":{"field":"m","type":"quantitative","title":null,"scale":{"domain":[-24.8,278.6],"nice":false,"zero":false},"axis":{"title":null,"tickCount":100,"values":[0,25,50,75,100,125,150,175,200,225,250,275],"labelExpr":"datum.value % 50 === 0 ? datum.label : ''","tickSize":{"condition":{"test":"datum.value % 50 === 0","value":4},"value":2}}}}},
   {"mark":{"type":"line","color":"#e8383d","strokeWidth":2.6},"encoding":{"x":{"field":"t","type":"quantitative","title":null},"y":{"field":"f","type":"quantitative","title":null}}},
   {"data":{"values":[{"s":"K"}]},"mark":{"type":"text","font":"Liberation Serif","fontStyle":"italic","fontSize":21,"align":"left","baseline":"alphabetic","color":"#111"},"encoding":{"x":{"datum":-68.8},"y":{"datum":267},"text":{"field":"s"}}},
   {"data":{"values":[{"s":"D"}]},"mark":{"type":"text","font":"Liberation Serif","fontSize":13,"align":"left","baseline":"alphabetic","dx":8,"dy":6,"color":"#111"},"encoding":{"x":{"datum":-68.8},"y":{"datum":267},"text":{"field":"s"}}},
   {"data":{"values":[{"s":"= 6.26 ± 0.94 nM"}]},"mark":{"type":"text","font":"Liberation Serif","fontSize":21,"align":"left","baseline":"alphabetic","dx":17,"color":"#111"},"encoding":{"x":{"datum":-68.8},"y":{"datum":267},"text":{"field":"s"}}}
  ]},
 {"width":1,"height":1,"data":{"values":[]},"mark":"point"},
 {"width":1,"height":1,"data":{"values":[]},"mark":"point"},
 {"width":1,"height":159,"data":{"name":"a10"},
  "layer":[
   {"mark":{"type":"line","color":"#404040","strokeWidth":3},"encoding":{"x":{"field":"t","type":"quantitative","title":null,"scale":{"domain":[-100,748],"range":[0,193],"nice":false,"zero":false},"axis":{"title":null,"tickCount":100,"values":[-100,-50,0,50,100,150,200,250,300,350,400,450,500,550,600,650,700],"labelExpr":"datum.value % 100 === 0 ? datum.label : ''","tickSize":{"condition":{"test":"datum.value % 100 === 0","value":4},"value":2}}},"y":{"field":"m","type":"quantitative","title":null,"scale":{"domain":[-24,324],"nice":false,"zero":false},"axis":{"title":null,"tickCount":100,"values":[0,25,50,75,100,125,150,175,200,225,250,275,300],"labelExpr":"datum.value % 50 === 0 ? datum.label : ''","tickSize":{"condition":{"test":"datum.value % 50 === 0","value":4},"value":2}}}}},
   {"mark":{"type":"line","color":"#e8383d","strokeWidth":2.6},"encoding":{"x":{"field":"t","type":"quantitative","title":null},"y":{"field":"f","type":"quantitative","title":null}}},
   {"data":{"values":[{"s":"K"}]},"mark":{"type":"text","font":"Liberation Serif","fontStyle":"italic","fontSize":21,"align":"left","baseline":"alphabetic","color":"#111"},"encoding":{"x":{"datum":-51.7},"y":{"datum":310.9},"text":{"field":"s"}}},
   {"data":{"values":[{"s":"D"}]},"mark":{"type":"text","font":"Liberation Serif","fontSize":13,"align":"left","baseline":"alphabetic","dx":8,"dy":6,"color":"#111"},"encoding":{"x":{"datum":-51.7},"y":{"datum":310.9},"text":{"field":"s"}}},
   {"data":{"values":[{"s":"= 2.85 ± 0.41 nM"}]},"mark":{"type":"text","font":"Liberation Serif","fontSize":21,"align":"left","baseline":"alphabetic","dx":17,"color":"#111"},"encoding":{"x":{"datum":-51.7},"y":{"datum":310.9},"text":{"field":"s"}}}
  ]},
 {"width":1,"height":1,"data":{"values":[]},"mark":"point"},
 {"width":1,"height":159,"data":{"values":[{"s":"hACE2"}]},"mark":{"type":"text","font":"Liberation Sans","fontSize":23,"align":"left","baseline":"middle","color":"#111"},"encoding":{"text":{"field":"s"}}},

 {"width":1,"height":11,"data":{"values":[]},"mark":"point"},
 {"width":1,"height":1,"data":{"values":[]},"mark":"point"},{"width":1,"height":1,"data":{"values":[]},"mark":"point"},{"width":1,"height":1,"data":{"values":[]},"mark":"point"},{"width":1,"height":1,"data":{"values":[]},"mark":"point"},{"width":1,"height":1,"data":{"values":[]},"mark":"point"},{"width":1,"height":1,"data":{"values":[]},"mark":"point"},{"width":1,"height":1,"data":{"values":[]},"mark":"point"},
 {"width":1,"height":1,"data":{"values":[]},"mark":"point"},{"width":1,"height":1,"data":{"values":[]},"mark":"point"},{"width":1,"height":1,"data":{"values":[]},"mark":"point"},{"width":1,"height":1,"data":{"values":[]},"mark":"point"},{"width":1,"height":1,"data":{"values":[]},"mark":"point"},{"width":1,"height":1,"data":{"values":[]},"mark":"point"},{"width":1,"height":1,"data":{"values":[]},"mark":"point"},
 {"width":1,"height":1,"data":{"values":[]},"mark":"point"},{"width":1,"height":1,"data":{"values":[]},"mark":"point"},{"width":1,"height":1,"data":{"values":[]},"mark":"point"},{"width":1,"height":1,"data":{"values":[]},"mark":"point"},{"width":1,"height":1,"data":{"values":[]},"mark":"point"},{"width":1,"height":1,"data":{"values":[]},"mark":"point"},{"width":1,"height":1,"data":{"values":[]},"mark":"point"},

 {"width":1,"height":1,"data":{"values":[]},"mark":"point"},{"width":1,"height":1,"data":{"values":[]},"mark":"point"},{"width":1,"height":1,"data":{"values":[]},"mark":"point"},{"width":1,"height":1,"data":{"values":[]},"mark":"point"},
 {"width":1,"height":20,"data":{"values":[{}]},
  "title":{"text":"Times (s)","orient":"bottom","frame":"bounds","fontSize":23,"baseline":"alphabetic","offset":24},
  "layer":[
   {"mark":{"type":"rule","color":"#000","strokeWidth":3.5},"encoding":{"x":{"datum":0,"type":"quantitative","scale":{"domain":[0,1],"range":[0,1091]},"axis":null},"x2":{"datum":0.985},"y":{"datum":0.5,"type":"quantitative","scale":{"domain":[0,1]},"axis":null}}},
   {"mark":{"type":"point","shape":"M-1,-0.76L1,0L-1,0.76Z","filled":true,"color":"#000","opacity":1,"size":625},"encoding":{"x":{"datum":0.9885,"type":"quantitative"},"y":{"datum":0.5,"type":"quantitative"}}}
  ]},
 {"width":1,"height":1,"data":{"values":[]},"mark":"point"},{"width":1,"height":1,"data":{"values":[]},"mark":"point"},{"width":1,"height":1,"data":{"values":[]},"mark":"point"},{"width":1,"height":1,"data":{"values":[]},"mark":"point"},{"width":1,"height":1,"data":{"values":[]},"mark":"point"},{"width":1,"height":1,"data":{"values":[]},"mark":"point"},
 {"width":1,"height":1,"data":{"values":[]},"mark":"point"},{"width":1,"height":1,"data":{"values":[]},"mark":"point"},{"width":1,"height":1,"data":{"values":[]},"mark":"point"},{"width":1,"height":1,"data":{"values":[]},"mark":"point"},{"width":1,"height":1,"data":{"values":[]},"mark":"point"},{"width":1,"height":1,"data":{"values":[]},"mark":"point"},
 {"width":1,"height":1,"data":{"values":[]},"mark":"point"},{"width":1,"height":1,"data":{"values":[]},"mark":"point"},{"width":1,"height":1,"data":{"values":[]},"mark":"point"},{"width":1,"height":1,"data":{"values":[]},"mark":"point"},{"width":1,"height":1,"data":{"values":[]},"mark":"point"},

 {"width":1,"height":23,"data":{"values":[]},"mark":"point"},
 {"width":1,"height":1,"data":{"values":[]},"mark":"point"},{"width":1,"height":1,"data":{"values":[]},"mark":"point"},{"width":1,"height":1,"data":{"values":[]},"mark":"point"},{"width":1,"height":1,"data":{"values":[]},"mark":"point"},{"width":1,"height":1,"data":{"values":[]},"mark":"point"},{"width":1,"height":1,"data":{"values":[]},"mark":"point"},{"width":1,"height":1,"data":{"values":[]},"mark":"point"},
 {"width":1,"height":1,"data":{"values":[]},"mark":"point"},{"width":1,"height":1,"data":{"values":[]},"mark":"point"},{"width":1,"height":1,"data":{"values":[]},"mark":"point"},{"width":1,"height":1,"data":{"values":[]},"mark":"point"},{"width":1,"height":1,"data":{"values":[]},"mark":"point"},{"width":1,"height":1,"data":{"values":[]},"mark":"point"},{"width":1,"height":1,"data":{"values":[]},"mark":"point"},
 {"width":1,"height":1,"data":{"values":[]},"mark":"point"},{"width":1,"height":1,"data":{"values":[]},"mark":"point"},{"width":1,"height":1,"data":{"values":[]},"mark":"point"},{"width":1,"height":1,"data":{"values":[]},"mark":"point"},{"width":1,"height":1,"data":{"values":[]},"mark":"point"},{"width":1,"height":1,"data":{"values":[]},"mark":"point"},{"width":1,"height":1,"data":{"values":[]},"mark":"point"},

 {"width":1,"height":99,"data":{"values":[]},"mark":"point"},
 {"width":1,"height":42,"data":{"values":[{"s":"b"}]},"mark":{"type":"text","font":"Liberation Serif","fontSize":34,"align":"center","baseline":"middle","dx":7.5,"color":"#111"},"encoding":{"text":{"field":"s"}}},
 {"width":1,"height":1,"data":{"values":[]},"mark":"point"},{"width":1,"height":1,"data":{"values":[]},"mark":"point"},{"width":1,"height":1,"data":{"values":[]},"mark":"point"},{"width":1,"height":1,"data":{"values":[]},"mark":"point"},{"width":1,"height":1,"data":{"values":[]},"mark":"point"},{"width":1,"height":1,"data":{"values":[]},"mark":"point"},{"width":1,"height":1,"data":{"values":[]},"mark":"point"},
 {"width":1,"height":1,"data":{"values":[]},"mark":"point"},{"width":1,"height":1,"data":{"values":[]},"mark":"point"},{"width":1,"height":1,"data":{"values":[]},"mark":"point"},{"width":1,"height":1,"data":{"values":[]},"mark":"point"},{"width":1,"height":1,"data":{"values":[]},"mark":"point"},{"width":1,"height":1,"data":{"values":[]},"mark":"point"},{"width":1,"height":1,"data":{"values":[]},"mark":"point"},
 {"width":1,"height":1,"data":{"values":[]},"mark":"point"},{"width":1,"height":1,"data":{"values":[]},"mark":"point"},{"width":1,"height":1,"data":{"values":[]},"mark":"point"},{"width":1,"height":1,"data":{"values":[]},"mark":"point"},{"width":1,"height":1,"data":{"values":[]},"mark":"point"},{"width":1,"height":1,"data":{"values":[]},"mark":"point"},

 {"width":1,"height":1,"data":{"values":[]},"mark":"point"},
 {"width":1,"height":1,"data":{"values":[]},"mark":"point"},
 {"width":1,"height":1,"data":{"values":[]},"mark":"point"},
 {"width":1,"height":145,"data":{"values":[{}]},
  "layer":[
   {"mark":{"type":"rule","color":"#000","strokeWidth":3.3},"encoding":{"x":{"datum":0.5,"type":"quantitative","scale":{"domain":[0,1],"range":[0,20]},"axis":null},"y":{"datum":-0.0138,"type":"quantitative","scale":{"domain":[0,1]},"axis":null},"y2":{"datum":1.0759}}},
   {"mark":{"type":"point","shape":"M-0.8,1L0,-1L0.8,1Z","filled":true,"color":"#000","opacity":1,"size":625},"encoding":{"x":{"datum":0.5,"type":"quantitative"},"y":{"datum":1.107,"type":"quantitative"}}},
   {"data":{"values":[{"s":"Response Unit (RU)"}]},"mark":{"type":"text","font":"Liberation Sans","fontSize":23,"angle":270,"align":"center","baseline":"alphabetic","color":"#111"},"encoding":{"x":{"datum":-0.7,"type":"quantitative"},"y":{"datum":0.5483,"type":"quantitative"},"text":{"field":"s"}}}
  ]},
 {"width":1,"height":1,"data":{"values":[]},"mark":"point"},
 {"width":1,"height":1,"data":{"values":[]},"mark":"point"},
 {"width":1,"height":1,"data":{"values":[]},"mark":"point"},
 {"width":1,"height":144,"data":{"name":"b1"},"title":{"text":["SARS-CoV-2","PT-RBD"],"offset":4,"dx":83.5},
  "layer":[
   {"mark":{"type":"line","color":"#404040","strokeWidth":3},"encoding":{"x":{"field":"t","type":"quantitative","title":null,"scale":{"domain":[-200,874],"range":[0,174],"nice":false,"zero":false},"axis":{"title":null,"tickCount":100,"values":[-200,-100,0,100,200,300,400,500,600,700,800],"labelExpr":"datum.value % 200 === 0 ? datum.label : ''","tickSize":{"condition":{"test":"datum.value % 200 === 0","value":4},"value":2}}},"y":{"field":"m","type":"quantitative","title":null,"scale":{"domain":[-100,1000],"nice":false,"zero":false},"axis":{"title":null,"tickCount":100,"values":[-100,0,100,200,300,400,500,600,700,800,900,1000],"labelExpr":"datum.value % 200 === 0 ? datum.label : ''","tickSize":{"condition":{"test":"datum.value % 200 === 0","value":4},"value":2}}}}},
   {"mark":{"type":"line","color":"#e8383d","strokeWidth":2.6},"encoding":{"x":{"field":"t","type":"quantitative","title":null},"y":{"field":"f","type":"quantitative","title":null}}},
   {"data":{"values":[{"s":"K"}]},"mark":{"type":"text","font":"Liberation Serif","fontStyle":"italic","fontSize":21,"align":"left","baseline":"alphabetic","color":"#111"},"encoding":{"x":{"datum":-138},"y":{"datum":962},"text":{"field":"s"}}},
   {"data":{"values":[{"s":"D"}]},"mark":{"type":"text","font":"Liberation Serif","fontSize":13,"align":"left","baseline":"alphabetic","dx":8,"dy":6,"color":"#111"},"encoding":{"x":{"datum":-138},"y":{"datum":962},"text":{"field":"s"}}},
   {"data":{"values":[{"s":"= 200 ± 1.00 nM"}]},"mark":{"type":"text","font":"Liberation Serif","fontSize":21,"align":"left","baseline":"alphabetic","dx":17,"color":"#111"},"encoding":{"x":{"datum":-138},"y":{"datum":962},"text":{"field":"s"}}}
  ]},
 {"width":1,"height":145,"data":{"name":"b2"},"title":{"text":["Alpha-","RBD"],"offset":4,"dx":87},
  "layer":[
   {"mark":{"type":"line","color":"#404040","strokeWidth":3},"encoding":{"x":{"field":"t","type":"quantitative","title":null,"scale":{"domain":[-200,894],"range":[0,175],"nice":false,"zero":false},"axis":{"title":null,"tickCount":100,"values":[-200,-100,0,100,200,300,400,500,600,700,800],"labelExpr":"datum.value % 200 === 0 ? datum.label : ''","tickSize":{"condition":{"test":"datum.value % 200 === 0","value":4},"value":2}}},"y":{"field":"m","type":"quantitative","title":null,"scale":{"domain":[-104,652],"nice":false,"zero":false},"axis":{"title":null,"tickCount":100,"values":[-100,-50,0,50,100,150,200,250,300,350,400,450,500,550,600,650],"labelExpr":"datum.value % 100 === 0 ? datum.label : ''","tickSize":{"condition":{"test":"datum.value % 100 === 0","value":4},"value":2}}}}},
   {"mark":{"type":"line","color":"#e8383d","strokeWidth":2.6},"encoding":{"x":{"field":"t","type":"quantitative","title":null},"y":{"field":"f","type":"quantitative","title":null}}},
   {"data":{"values":[{"s":"K"}]},"mark":{"type":"text","font":"Liberation Serif","fontStyle":"italic","fontSize":21,"align":"left","baseline":"alphabetic","color":"#111"},"encoding":{"x":{"datum":-156},"y":{"datum":626},"text":{"field":"s"}}},
   {"data":{"values":[{"s":"D"}]},"mark":{"type":"text","font":"Liberation Serif","fontSize":13,"align":"left","baseline":"alphabetic","dx":8,"dy":6,"color":"#111"},"encoding":{"x":{"datum":-156},"y":{"datum":626},"text":{"field":"s"}}},
   {"data":{"values":[{"s":"= 4.55 ±0.31 μM"}]},"mark":{"type":"text","font":"Liberation Serif","fontSize":21,"align":"left","baseline":"alphabetic","dx":17,"color":"#111"},"encoding":{"x":{"datum":-156},"y":{"datum":626},"text":{"field":"s"}}}
  ]},
 {"width":1,"height":1,"data":{"values":[]},"mark":"point"},
 {"width":1,"height":1,"data":{"values":[]},"mark":"point"},
 {"width":1,"height":143,"data":{"name":"b3"},"title":{"text":["Beta-","RBD"],"offset":4,"dx":71.5},
  "layer":[
   {"mark":{"type":"line","color":"#404040","strokeWidth":3},"encoding":{"x":{"field":"t","type":"quantitative","title":null,"scale":{"domain":[-200,895],"range":[0,173],"nice":false,"zero":false},"axis":{"title":null,"tickCount":100,"values":[-200,-100,0,100,200,300,400,500,600,700,800],"labelExpr":"datum.value % 200 === 0 ? datum.label : ''","tickSize":{"condition":{"test":"datum.value % 200 === 0","value":4},"value":2}}},"y":{"field":"m","type":"quantitative","title":null,"scale":{"domain":[-50.4,504],"nice":false,"zero":false},"axis":{"title":null,"tickCount":100,"values":[-50,0,50,100,150,200,250,300,350,400,450,500],"labelExpr":"datum.value % 100 === 0 ? datum.label : ''","tickSize":{"condition":{"test":"datum.value % 100 === 0","value":4},"value":2}}}}},
   {"mark":{"type":"line","color":"#e8383d","strokeWidth":2.6},"encoding":{"x":{"field":"t","type":"quantitative","title":null},"y":{"field":"f","type":"quantitative","title":null}}},
   {"data":{"values":[{"s":"K"}]},"mark":{"type":"text","font":"Liberation Serif","fontStyle":"italic","fontSize":21,"align":"left","baseline":"alphabetic","color":"#111"},"encoding":{"x":{"datum":-162},"y":{"datum":484.6},"text":{"field":"s"}}},
   {"data":{"values":[{"s":"D"}]},"mark":{"type":"text","font":"Liberation Serif","fontSize":13,"align":"left","baseline":"alphabetic","dx":8,"dy":6,"color":"#111"},"encoding":{"x":{"datum":-162},"y":{"datum":484.6},"text":{"field":"s"}}},
   {"data":{"values":[{"s":"= 827 ± 70.6 nM"}]},"mark":{"type":"text","font":"Liberation Serif","fontSize":21,"align":"left","baseline":"alphabetic","dx":17,"color":"#111"},"encoding":{"x":{"datum":-162},"y":{"datum":484.6},"text":{"field":"s"}}}
  ]},
 {"width":1,"height":1,"data":{"values":[]},"mark":"point"},
 {"width":1,"height":1,"data":{"values":[]},"mark":"point"},
 {"width":1,"height":145,"data":{"name":"b4"},"title":{"text":["Gamma-","RBD"],"offset":4,"dx":74},
  "layer":[
   {"mark":{"type":"line","color":"#404040","strokeWidth":3},"encoding":{"x":{"field":"t","type":"quantitative","title":null,"scale":{"domain":[-200,888],"range":[0,173],"nice":false,"zero":false},"axis":{"title":null,"tickCount":100,"values":[-200,-100,0,100,200,300,400,500,600,700,800],"labelExpr":"datum.value % 200 === 0 ? datum.label : ''","tickSize":{"condition":{"test":"datum.value % 200 === 0","value":4},"value":2}}},"y":{"field":"m","type":"quantitative","title":null,"scale":{"domain":[-24.8,252],"nice":false,"zero":false},"axis":{"title":null,"tickCount":100,"values":[-25,0,25,50,75,100,125,150,175,200,225,250],"labelExpr":"datum.value % 50 === 0 ? datum.label : ''","tickSize":{"condition":{"test":"datum.value % 50 === 0","value":4},"value":2}}}}},
   {"mark":{"type":"line","color":"#e8383d","strokeWidth":2.6},"encoding":{"x":{"field":"t","type":"quantitative","title":null},"y":{"field":"f","type":"quantitative","title":null}}},
   {"data":{"values":[{"s":"K"}]},"mark":{"type":"text","font":"Liberation Serif","fontStyle":"italic","fontSize":21,"align":"left","baseline":"alphabetic","color":"#111"},"encoding":{"x":{"datum":-168.6},"y":{"datum":242.5},"text":{"field":"s"}}},
   {"data":{"values":[{"s":"D"}]},"mark":{"type":"text","font":"Liberation Serif","fontSize":13,"align":"left","baseline":"alphabetic","dx":8,"dy":6,"color":"#111"},"encoding":{"x":{"datum":-168.6},"y":{"datum":242.5},"text":{"field":"s"}}},
   {"data":{"values":[{"s":"= 7.84 ± 3.38 μM"}]},"mark":{"type":"text","font":"Liberation Serif","fontSize":21,"align":"left","baseline":"alphabetic","dx":17,"color":"#111"},"encoding":{"x":{"datum":-168.6},"y":{"datum":242.5},"text":{"field":"s"}}}
  ]},
 {"width":1,"height":1,"data":{"values":[]},"mark":"point"},
 {"width":1,"height":1,"data":{"values":[]},"mark":"point"},
 {"width":1,"height":145,"data":{"name":"b5"},"title":{"text":["Delta-","RBD"],"offset":4,"dx":81.5},
  "layer":[
   {"mark":{"type":"line","color":"#404040","strokeWidth":3},"encoding":{"x":{"field":"t","type":"quantitative","title":null,"scale":{"domain":[-200,908],"range":[0,174],"nice":false,"zero":false},"axis":{"title":null,"tickCount":100,"values":[-200,-100,0,100,200,300,400,500,600,700,800],"labelExpr":"datum.value % 200 === 0 ? datum.label : ''","tickSize":{"condition":{"test":"datum.value % 200 === 0","value":4},"value":2}}},"y":{"field":"m","type":"quantitative","title":null,"scale":{"domain":[-97.4,911],"nice":false,"zero":false},"axis":{"title":null,"tickCount":100,"values":[0,100,200,300,400,500,600,700,800,900],"labelExpr":"datum.value % 200 === 0 ? datum.label : ''","tickSize":{"condition":{"test":"datum.value % 200 === 0","value":4},"value":2}}}}},
   {"mark":{"type":"line","color":"#e8383d","strokeWidth":2.6},"encoding":{"x":{"field":"t","type":"quantitative","title":null},"y":{"field":"f","type":"quantitative","title":null}}},
   {"data":{"values":[{"s":"K"}]},"mark":{"type":"text","font":"Liberation Serif","fontStyle":"italic","fontSize":21,"align":"left","baseline":"alphabetic","color":"#111"},"encoding":{"x":{"datum":-92},"y":{"datum":876},"text":{"field":"s"}}},
   {"data":{"values":[{"s":"D"}]},"mark":{"type":"text","font":"Liberation Serif","fontSize":13,"align":"left","baseline":"alphabetic","dx":8,"dy":6,"color":"#111"},"encoding":{"x":{"datum":-92},"y":{"datum":876},"text":{"field":"s"}}},
   {"data":{"values":[{"s":"= 409 ± 19.5 nM"}]},"mark":{"type":"text","font":"Liberation Serif","fontSize":21,"align":"left","baseline":"alphabetic","dx":17,"color":"#111"},"encoding":{"x":{"datum":-92},"y":{"datum":876},"text":{"field":"s"}}}
  ]},
 {"width":1,"height":1,"data":{"values":[]},"mark":"point"},
 {"width":1,"height":1,"data":{"values":[]},"mark":"point"},
 {"width":1,"height":144,"data":{"name":"b6"},"title":{"text":["Omicron BA.1-","RBD"],"offset":4,"dx":75},
  "layer":[
   {"mark":{"type":"line","color":"#404040","strokeWidth":3},"encoding":{"x":{"field":"t","type":"quantitative","title":null,"scale":{"domain":[-100,800],"range":[0,176],"nice":false,"zero":false},"axis":{"title":null,"tickCount":100,"values":[-100,-50,0,50,100,150,200,250,300,350,400,450,500,550,600,650,700,750,800],"labelExpr":"datum.value % 100 === 0 ? datum.label : ''","tickSize":{"condition":{"test":"datum.value % 100 === 0","value":4},"value":2}}},"y":{"field":"m","type":"quantitative","title":null,"scale":{"domain":[-100,1000],"nice":false,"zero":false},"axis":{"title":null,"tickCount":100,"values":[-100,0,100,200,300,400,500,600,700,800,900,1000],"labelExpr":"datum.value % 200 === 0 ? datum.label : ''","tickSize":{"condition":{"test":"datum.value % 200 === 0","value":4},"value":2}}}}},
   {"mark":{"type":"line","color":"#e8383d","strokeWidth":2.6},"encoding":{"x":{"field":"t","type":"quantitative","title":null},"y":{"field":"f","type":"quantitative","title":null}}},
   {"data":{"values":[{"s":"K"}]},"mark":{"type":"text","font":"Liberation Serif","fontStyle":"italic","fontSize":21,"align":"left","baseline":"alphabetic","color":"#111"},"encoding":{"x":{"datum":-59},"y":{"datum":962},"text":{"field":"s"}}},
   {"data":{"values":[{"s":"D"}]},"mark":{"type":"text","font":"Liberation Serif","fontSize":13,"align":"left","baseline":"alphabetic","dx":8,"dy":6,"color":"#111"},"encoding":{"x":{"datum":-59},"y":{"datum":962},"text":{"field":"s"}}},
   {"data":{"values":[{"s":"= 5.18 ± 0.18 μM"}]},"mark":{"type":"text","font":"Liberation Serif","fontSize":21,"align":"left","baseline":"alphabetic","dx":17,"color":"#111"},"encoding":{"x":{"datum":-59},"y":{"datum":962},"text":{"field":"s"}}}
  ]},
 {"width":1,"height":160,"data":{"values":[{"s":"eqACE2"}]},"mark":{"type":"text","font":"Liberation Sans","fontSize":23,"align":"left","baseline":"middle","color":"#111"},"encoding":{"text":{"field":"s"}}},

 {"width":1,"height":2,"data":{"values":[]},"mark":"point"},
 {"width":1,"height":1,"data":{"values":[]},"mark":"point"},{"width":1,"height":1,"data":{"values":[]},"mark":"point"},{"width":1,"height":1,"data":{"values":[]},"mark":"point"},{"width":1,"height":1,"data":{"values":[]},"mark":"point"},{"width":1,"height":1,"data":{"values":[]},"mark":"point"},{"width":1,"height":1,"data":{"values":[]},"mark":"point"},{"width":1,"height":1,"data":{"values":[]},"mark":"point"},
 {"width":1,"height":1,"data":{"values":[]},"mark":"point"},{"width":1,"height":1,"data":{"values":[]},"mark":"point"},{"width":1,"height":1,"data":{"values":[]},"mark":"point"},{"width":1,"height":1,"data":{"values":[]},"mark":"point"},{"width":1,"height":1,"data":{"values":[]},"mark":"point"},{"width":1,"height":1,"data":{"values":[]},"mark":"point"},{"width":1,"height":1,"data":{"values":[]},"mark":"point"},
 {"width":1,"height":1,"data":{"values":[]},"mark":"point"},{"width":1,"height":1,"data":{"values":[]},"mark":"point"},{"width":1,"height":1,"data":{"values":[]},"mark":"point"},{"width":1,"height":1,"data":{"values":[]},"mark":"point"},{"width":1,"height":1,"data":{"values":[]},"mark":"point"},{"width":1,"height":1,"data":{"values":[]},"mark":"point"},{"width":1,"height":1,"data":{"values":[]},"mark":"point"},

 {"width":1,"height":1,"data":{"values":[]},"mark":"point"},{"width":1,"height":1,"data":{"values":[]},"mark":"point"},{"width":1,"height":1,"data":{"values":[]},"mark":"point"},{"width":1,"height":1,"data":{"values":[]},"mark":"point"},{"width":1,"height":1,"data":{"values":[]},"mark":"point"},
 {"width":1,"height":20,"data":{"values":[{}]},
  "title":{"text":"Times (s)","orient":"bottom","frame":"bounds","fontSize":23,"baseline":"alphabetic","offset":24,"dx":-14.5},
  "layer":[
   {"mark":{"type":"rule","color":"#000","strokeWidth":3.5},"encoding":{"x":{"datum":0,"type":"quantitative","scale":{"domain":[0,1],"range":[0,1123]},"axis":null},"x2":{"datum":0.985},"y":{"datum":0.5,"type":"quantitative","scale":{"domain":[0,1]},"axis":null}}},
   {"mark":{"type":"point","shape":"M-1,-0.75L1,0L-1,0.75Z","filled":true,"color":"#000","opacity":1,"size":576},"encoding":{"x":{"datum":0.9893,"type":"quantitative"},"y":{"datum":0.5,"type":"quantitative"}}}
  ]},
 {"width":1,"height":1,"data":{"values":[]},"mark":"point"},{"width":1,"height":1,"data":{"values":[]},"mark":"point"},{"width":1,"height":1,"data":{"values":[]},"mark":"point"},{"width":1,"height":1,"data":{"values":[]},"mark":"point"},{"width":1,"height":1,"data":{"values":[]},"mark":"point"},{"width":1,"height":1,"data":{"values":[]},"mark":"point"},
 {"width":1,"height":1,"data":{"values":[]},"mark":"point"},{"width":1,"height":1,"data":{"values":[]},"mark":"point"},{"width":1,"height":1,"data":{"values":[]},"mark":"point"},{"width":1,"height":1,"data":{"values":[]},"mark":"point"},{"width":1,"height":1,"data":{"values":[]},"mark":"point"},{"width":1,"height":1,"data":{"values":[]},"mark":"point"},
 {"width":1,"height":1,"data":{"values":[]},"mark":"point"},{"width":1,"height":1,"data":{"values":[]},"mark":"point"},{"width":1,"height":1,"data":{"values":[]},"mark":"point"},{"width":1,"height":1,"data":{"values":[]},"mark":"point"}
]
}
